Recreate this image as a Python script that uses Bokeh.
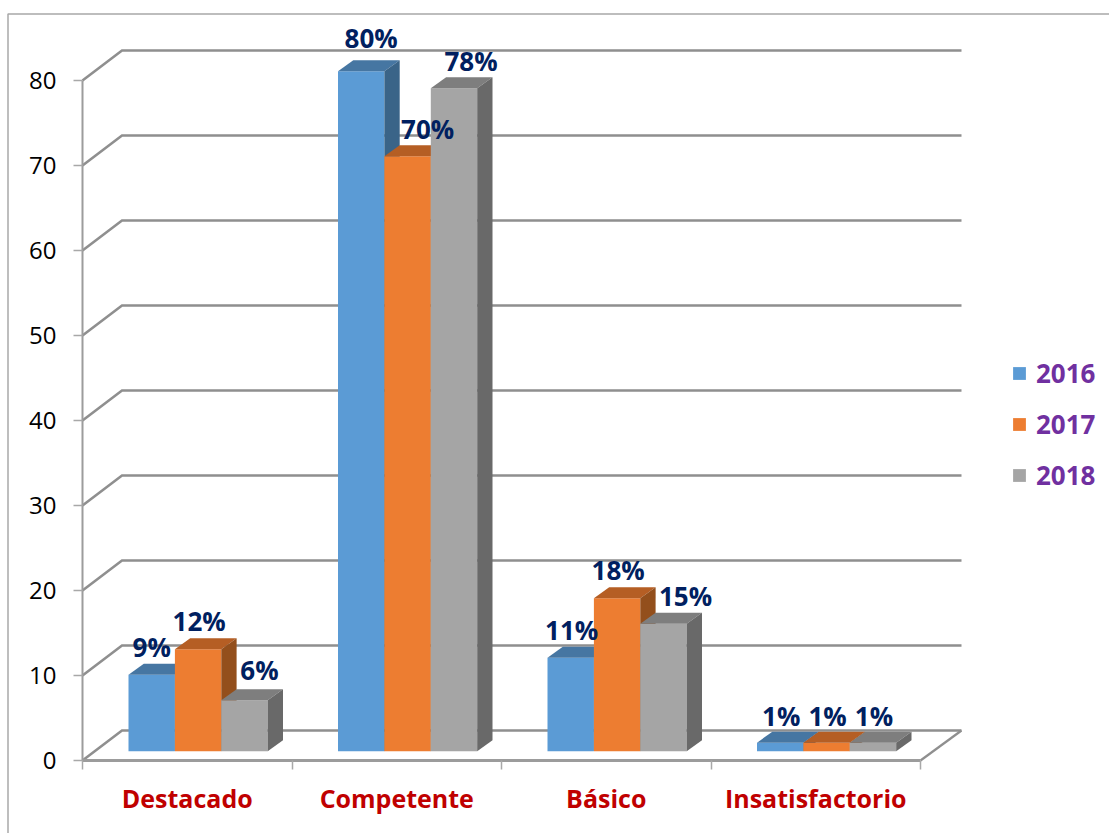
from bokeh.plotting import figure
from bokeh.models import (Range1d, LinearAxis, FixedTicker, ColumnDataSource, Legend, LegendItem,
                          BoxAnnotation)
from bokeh.core.properties import value
from bokeh.embed import file_html
from bokeh.resources import INLINE

categories = ["Destacado", "Competente", "Básico", "Insatisfactorio"]
years = ["2016", "2017", "2018"]
v2016 = [9, 80, 11, 1]
v2017 = [12, 70, 18, 1]
v2018 = [6, 78, 15, 1]
y_ticks = [0, 10, 20, 30, 40, 50, 60, 70, 80]

# colours per series: front, top, side
colors = {
    "2016": ("#5B9BD5", "#4676A2", "#3A6488"),
    "2017": ("#ED7D31", "#B55E24", "#934F1C"),
    "2018": ("#A5A5A5", "#7E7E7E", "#696969"),
}
# hand placement of data labels in screen px (dx, dy) per series per category
label_nudge = {
    "2016": [(0, -28), (10, -33), (1, -28), (1, -27)],
    "2017": [(1, -28), (20, -27), (1, -28), (1, -27)],
    "2018": [(15, -30), (17, -27), (22, -28), (1, -27)],
}

FONT = "Open Sans"
W, H = 1109, 833
PX_X = 209.5       # px per category
PX_Y = 8.5         # px per value unit
X0, Y0 = 82, 760   # image px of data origin

x_start = -X0 / PX_X
x_end = (W - X0) / PX_X
y_end = Y0 / PX_Y
y_start = (Y0 - H) / PX_Y

p = figure(width=W, height=H, output_backend="svg", toolbar_location=None,
           x_range=Range1d(x_start, x_end), y_range=Range1d(y_start, y_end),
           x_axis_location=None, y_axis_location=None, min_border=0,
           outline_line_color=None, background_fill_color="white", border_fill_color="white")
p.grid.visible = False

# chart border (only its left and top edges fall inside the picture)
p.add_layout(BoxAnnotation(left=7.5, right=W + 20, top=H - 13.5, bottom=-20,
                           left_units="screen", right_units="screen",
                           top_units="screen", bottom_units="screen",
                           fill_alpha=0, line_color="#A8A8A8", line_alpha=1, line_width=1.5))

# walls and floor
n = len(categories)
wall_dx, wall_dy = 39.5 / PX_X, 30 / PX_Y
wall_right = (961 - X0) / PX_X
GRID = "#8F8F8F"
wx = [[0, wall_dx, wall_right] for t in y_ticks]
wy = [[t, t + wall_dy, t + wall_dy] for t in y_ticks]
p.multi_line(wx, wy, line_color=GRID, line_width=2.6, line_join="miter")
p.line([n, wall_right], [0, wall_dy], line_color=GRID, line_width=2.2)

# bars
bar_w = 46.4 / PX_X
bar_off = 46 / PX_X
depth_x, depth_y = 15.3 / PX_X, 11 / PX_Y
base = (Y0 - 750.7) / PX_Y

items = []
label_data = dict(x=[], y=[], t=[], xo=[], yo=[])
for s, (yr, vals) in enumerate(zip(years, [v2016, v2017, v2018])):
    front, top, side = colors[yr]
    x0s = [i + bar_off + s * bar_w for i in range(n)]
    x1s = [x + bar_w for x in x0s]
    tops = [base + v for v in vals]
    r = p.quad(left=x0s, right=x1s, bottom=base, top=tops, fill_color=front, line_color=None)
    p.patches([[a, b, b + depth_x, a + depth_x] for a, b in zip(x0s, x1s)],
              [[t, t, t + depth_y, t + depth_y] for t in tops],
              fill_color=top, line_color=None)
    p.patches([[b, b, b + depth_x, b + depth_x] for b in x1s],
              [[base, t, t + depth_y, base + depth_y] for t in tops],
              fill_color=side, line_color=None)
    items.append(LegendItem(label=yr, renderers=[r]))
    for i, v in enumerate(vals):
        label_data["x"].append(x0s[i] + bar_w / 2)
        label_data["y"].append(tops[i])
        label_data["t"].append(f"{v}%")
        label_data["xo"].append(label_nudge[yr][i][0])
        label_data["yo"].append(label_nudge[yr][i][1])

p.text("x", "y", text="t", x_offset="xo", y_offset="yo", source=ColumnDataSource(label_data),
       text_font=value(FONT), text_font_style="bold", text_font_size="26px",
       text_color="#002060", text_align="center", text_baseline="middle")

# value axis
ya = LinearAxis(fixed_location=0, bounds=(0, 80), ticker=FixedTicker(ticks=y_ticks))
ya.axis_line_color = "#9C9C9C"
ya.axis_line_width = 2
ya.major_tick_line_color = "#A8A8A8"
ya.major_tick_line_width = 1.5
ya.major_tick_in = 0
ya.major_tick_out = 9
ya.minor_tick_line_color = None
ya.major_label_text_font = FONT
ya.major_label_text_font_size = "24px"
ya.major_label_text_color = "#000000"
ya.major_label_standoff = 17
p.add_layout(ya, "left")

# category axis: labels at group centres, tick marks between the groups
centers = [i + 0.5 for i in range(n)]
xa = LinearAxis(fixed_location=0, bounds=(0, n),
                ticker=FixedTicker(ticks=centers, minor_ticks=list(range(n + 1))),
                major_label_overrides={c: t for c, t in zip(centers, categories)})
xa.axis_line_color = "#9C9C9C"
xa.axis_line_width = 3
xa.major_tick_line_color = None
xa.major_tick_in = 0
xa.major_tick_out = 0
xa.minor_tick_line_color = "#A8A8A8"
xa.minor_tick_line_width = 1.5
xa.minor_tick_in = 0
xa.minor_tick_out = 9
xa.major_label_text_font = FONT
xa.major_label_text_font_style = "bold"
xa.major_label_text_font_size = "25px"
xa.major_label_text_color = "#C00000"
xa.major_label_standoff = 11
p.add_layout(xa, "below")

legend = Legend(items=items, location=(1011, H - 500.5), orientation="vertical",
                padding=0, margin=0, spacing=0, glyph_width=16, glyph_height=16,
                label_height=51, label_standoff=9, border_line_color=None,
                background_fill_alpha=0, label_text_font=FONT, label_text_font_style="bold",
                label_text_font_size="26px", label_text_color="#7030A0")
p.add_layout(legend, "center")

open("out.html", "w").write(file_html(p, INLINE))
